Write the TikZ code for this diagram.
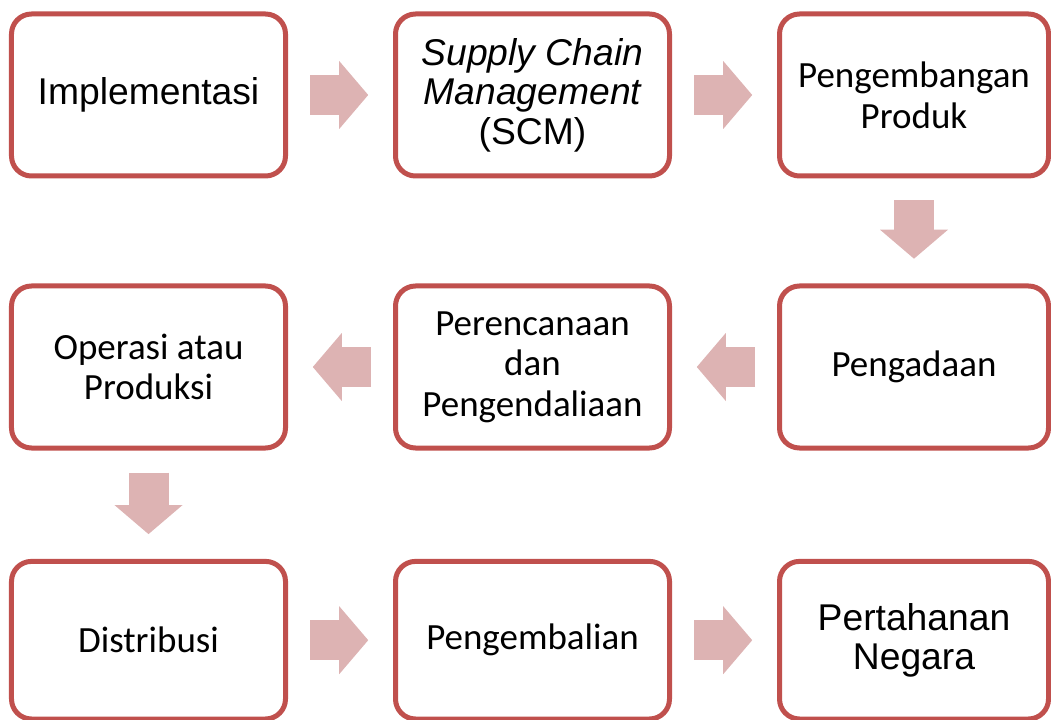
\documentclass[tikz,border=0pt]{standalone}
\usepackage{fontspec}
\usetikzlibrary{arrows.meta}
\newfontfamily\arial{Liberation Sans}
\newfontfamily\calibri{Carlito}
\definecolor{boxred}{HTML}{C0504D}
\definecolor{arrowred}{HTML}{DDB3B3}
\tikzset{
	box/.style={draw=boxred, fill=white, line width=0.125cm, rounded corners=0.5cm, minimum width=6.85cm, minimum height=4.05cm, align=center, inner sep=0pt},
	ar/.style={font=\arial\fontsize{26.5}{28}\selectfont},
	ca/.style={font=\calibri\fontsize{26.3}{28.9}\selectfont},
	flow/.style={draw=arrowred, line width=1cm, -{Triangle[width=1.7cm, length=0.725cm, line width=0pt]}, shorten <=0.55cm, shorten >=0.62cm},
}

\begin{document}
\begin{tikzpicture}
	\useasboundingbox (0, 0) rectangle (26.275, 17.975);

	\node[box, ar] (implementasi) at (3.7125, 15.6) {Implementasi};
	\node[box, ar] (scm) at (13.3125, 15.6) {\itshape Supply Chain\\\itshape Management\\(SCM)};
	\node[box, ca, minimum width=6.725cm] (pengembangan) at (22.85, 15.6) {Pengembangan\\Produk};

	\node[box, ca] (operasi) at (3.7125, 8.8) {Operasi atau\\Produksi};
	\node[box, ca] (perencanaan) at (13.3125, 8.8) {Perencanaan\\dan\\Pengendaliaan};
	\node[box, ca, minimum width=6.725cm] (pengadaan) at (22.85, 8.8) {Pengadaan};

	\node[box, ca, minimum height=3.94cm] (distribusi) at (3.7125, 1.97) {Distribusi};
	\node[box, ca, minimum height=3.94cm] (pengembalian) at (13.3125, 1.97) {Pengembalian};
	\node[box, ar, minimum width=6.725cm, minimum height=3.94cm] (pertahanan) at (22.85, 1.97) {Pertahanan\\Negara};

	\draw[flow] (implementasi) -- (scm);
	\draw[flow] (scm) -- (pengembangan);
	\draw[flow] (pengembangan) -- (pengadaan);
	\draw[flow] (pengadaan) -- (perencanaan);
	\draw[flow] (perencanaan) -- (operasi);
	\draw[flow] (operasi) -- (distribusi);
	\draw[flow] (distribusi) -- (pengembalian);
	\draw[flow] (pengembalian) -- (pertahanan);
\end{tikzpicture}
\end{document}
